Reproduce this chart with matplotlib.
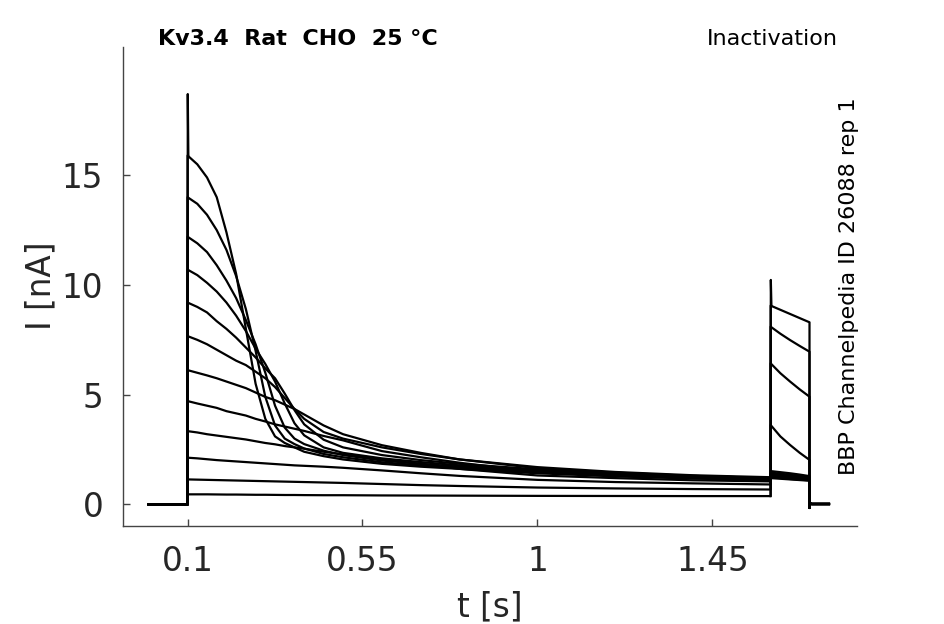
import matplotlib
matplotlib.use('Agg')
import matplotlib.pyplot as plt
import numpy as np

# time knots of the 1.5 s conditioning step (s)
pre_t = [0.1, 0.125, 0.15, 0.175, 0.2, 0.225, 0.25, 0.275, 0.3, 0.325, 0.35,
         0.375, 0.4, 0.45, 0.5, 0.6, 0.7, 0.8, 1.0, 1.2, 1.4, 1.6]
pre_1 = [15.9, 15.5, 14.9, 14.0, 12.4, 10.5, 8.0, 5.5, 3.9, 3.1, 2.8, 2.6, 2.4, 2.2, 2.05, 1.85, 1.72, 1.62, 1.42, 1.28, 1.18, 1.10]
pre_2 = [14.0, 13.7, 13.2, 12.5, 11.6, 10.4, 8.9, 7.0, 4.9, 3.6, 3.0, 2.75, 2.55, 2.3, 2.15, 1.92, 1.78, 1.66, 1.46, 1.32, 1.22, 1.14]
pre_3 = [12.2, 11.9, 11.5, 10.9, 10.2, 9.4, 8.4, 7.3, 6.0, 4.5, 3.5, 3.0, 2.75, 2.45, 2.25, 2.0, 1.85, 1.72, 1.5, 1.35, 1.25, 1.16]
pre_4 = [10.7, 10.45, 10.1, 9.7, 9.2, 8.6, 7.9, 7.1, 6.4, 5.6, 4.6, 3.7, 3.15, 2.6, 2.35, 2.1, 1.93, 1.78, 1.55, 1.38, 1.27, 1.18]
pre_5 = [9.2, 9.0, 8.75, 8.35, 8.0, 7.6, 7.15, 6.7, 6.2, 5.75, 5.05, 4.3, 3.65, 2.95, 2.6, 2.25, 2.02, 1.85, 1.6, 1.42, 1.3, 1.2]
pre_6 = [7.67, 7.5, 7.3, 7.05, 6.8, 6.55, 6.35, 6.05, 5.75, 5.35, 4.85, 4.35, 3.9, 3.3, 3.0, 2.6, 2.3, 2.05, 1.7, 1.48, 1.33, 1.24]
pre_7 = [6.12, 6.0, 5.88, 5.75, 5.6, 5.45, 5.3, 5.1, 4.9, 4.75, 4.55, 4.35, 4.1, 3.6, 3.2, 2.7, 2.35, 2.05, 1.65, 1.45, 1.3, 1.2]
pre_8 = [4.71, 4.6, 4.5, 4.4, 4.25, 4.15, 4.05, 3.9, 3.78, 3.65, 3.55, 3.45, 3.35, 3.12, 2.92, 2.43, 2.15, 1.9, 1.48, 1.3, 1.2, 1.12]
pre_9 = [3.34, 3.28, 3.2, 3.14, 3.08, 3.02, 2.96, 2.88, 2.8, 2.74, 2.66, 2.6, 2.54, 2.4, 2.28, 2.05, 1.85, 1.62, 1.32, 1.2, 1.1, 1.05]
pre_10 = [2.13, 2.1, 2.06, 2.02, 1.99, 1.96, 1.93, 1.9, 1.87, 1.84, 1.81, 1.78, 1.76, 1.72, 1.67, 1.55, 1.42, 1.3, 1.12, 1.02, 0.96, 0.91]
pre_11 = [1.14, 1.13, 1.12, 1.11, 1.1, 1.09, 1.08, 1.07, 1.06, 1.05, 1.04, 1.03, 1.02, 1.0, 0.98, 0.93, 0.88, 0.84, 0.77, 0.73, 0.7, 0.68]
pre_12 = [0.46, 0.46, 0.46, 0.455, 0.45, 0.45, 0.445, 0.44, 0.44, 0.435, 0.43, 0.43, 0.425, 0.42, 0.42, 0.41, 0.405, 0.4, 0.39, 0.385, 0.38, 0.38]

# test step
test_t = [1.6, 1.625, 1.65, 1.675, 1.7]
test_1 = [1.2, 1.17, 1.14, 1.11, 1.08]
test_2 = [1.24, 1.2, 1.16, 1.13, 1.1]
test_3 = [1.27, 1.23, 1.19, 1.15, 1.12]
test_4 = [1.3, 1.26, 1.22, 1.18, 1.14]
test_5 = [1.35, 1.3, 1.26, 1.22, 1.18]
test_6 = [1.4, 1.35, 1.3, 1.25, 1.2]
test_7 = [1.45, 1.4, 1.35, 1.3, 1.25]
test_8 = [1.52, 1.47, 1.42, 1.36, 1.29]
test_9 = [3.62, 3.10, 2.71, 2.35, 2.03]
test_10 = [6.43, 5.98, 5.6, 5.24, 4.91]
test_11 = [8.10, 7.78, 7.49, 7.22, 6.96]
test_12 = [9.06, 8.87, 8.68, 8.49, 8.30]

# holding before and after
hold_t = [0.0, 0.1]
hold_i = [0.0, 0.0]
tail_t = [1.7, 1.7015, 1.705, 1.75]
tail_i = [-0.16, 0.05, 0.02, 0.02]

# capacitive spikes
spike1_t = [0.1, 0.1005, 0.102]
spike1_i = [0.0, 18.7, 15.9]
spike2_t = [1.6, 1.6005, 1.602]
spike2_i = [0.38, 10.23, 9.06]

pre = [pre_1, pre_2, pre_3, pre_4, pre_5, pre_6, pre_7, pre_8, pre_9, pre_10, pre_11, pre_12]
test = [test_1, test_2, test_3, test_4, test_5, test_6, test_7, test_8, test_9, test_10, test_11, test_12]

fig = plt.figure(figsize=(9.45, 6.24), dpi=100)
ax = fig.add_axes([0.1298, 0.1575, 0.777, 0.7677])

for p, q in zip(pre, test):
    t = hold_t + pre_t + test_t + tail_t
    y = hold_i + p + q + tail_i
    ax.plot(t, y, color='black', lw=1.6)
ax.plot(spike1_t, spike1_i, color='black', lw=1.6)
ax.plot(spike2_t, spike2_i, color='black', lw=1.6)

ax.set_xlim(-0.067, 1.822)
ax.set_ylim(-0.97, 20.86)
ax.set_xticks([0.1, 0.55, 1, 1.45])
ax.set_xticklabels(['0.1', '0.55', '1', '1.45'])
ax.set_yticks([0, 5, 10, 15])
ax.set_xlabel('t [s]', fontsize=23.5, color='#262626', labelpad=9)
ax.set_ylabel('I [nA]', fontsize=23.5, color='#262626', labelpad=3)
ax.tick_params(direction='in', length=5, width=1, colors='#444444',
               labelcolor='#262626', labelsize=23.5, pad=14)
for s in ['top', 'right']:
    ax.spines[s].set_visible(False)
for s in ['left', 'bottom']:
    ax.spines[s].set_color('#444444')
    ax.spines[s].set_linewidth(1)

fig.text(0.167, 0.9375, 'Kv3.4  Rat  CHO  25 °C', fontsize=16, fontweight='bold',
         ha='left', va='center')
fig.text(0.887, 0.9375, 'Inactivation', fontsize=16, ha='right', va='center')
fig.text(0.898, 0.5417, 'BBP Channelpedia ID 26088 rep 1', fontsize=16,
         rotation=90, ha='center', va='center')

fig.savefig('out.png', dpi=100)
